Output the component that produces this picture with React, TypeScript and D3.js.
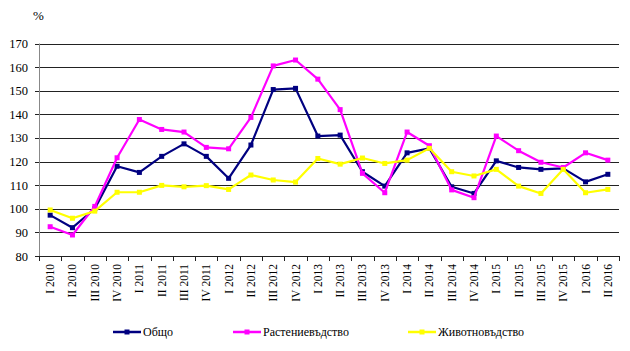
import React from "react";
import * as d3 from "d3";

const categories = [
  "I 2010", "II 2010", "III 2010", "IV 2010",
  "I 2011", "II 2011", "III 2011", "IV 2011",
  "I 2012", "II 2012", "III 2012", "IV 2012",
  "I 2013", "II 2013", "III 2013", "IV 2013",
  "I 2014", "II 2014", "III 2014", "IV 2014",
  "I 2015", "II 2015", "III 2015", "IV 2015",
  "I 2016", "II 2016",
];

const obshto = [97.3, 92, 100, 118, 115.4, 122.2, 127.5, 122.2, 112.9, 127, 150.5, 151, 130.8, 131.2, 115.7, 109.6, 123.7, 125.6, 109.3, 106.5, 120.3, 117.5, 116.7, 117.1, 111.4, 114.6];
const rasteniev = [92.4, 88.9, 101, 121.6, 137.8, 133.6, 132.5, 126, 125.4, 138.7, 160.5, 163, 154.9, 142, 115, 106.8, 132.5, 126.7, 108, 104.7, 130.8, 124.6, 119.7, 117.5, 123.7, 120.6];
const zhivotnov = [99.5, 96, 99, 107, 107, 109.9, 109.3, 109.8, 108.2, 114.3, 112.2, 111.3, 121.3, 118.9, 121.5, 119.2, 120.6, 125.6, 115.7, 113.9, 116.7, 109.6, 106.5, 116.7, 106.8, 108.2];

const yTicks = [80, 90, 100, 110, 120, 130, 140, 150, 160, 170];

const seriesList = [
  { name: "Общо", values: obshto, color: "#000080" },
  { name: "Растениевъдство", values: rasteniev, color: "#FF00FF" },
  { name: "Животновъдство", values: zhivotnov, color: "#FFFF00" },
];
const legendX = [113, 233, 408];

export default function App() {
  const W = 630, H = 351;
  const left = 39, right = 619, top = 43.5, bottom = 256;
  const x = d3.scaleBand<string>().domain(categories).range([left, right]);
  const y = d3.scaleLinear().domain([80, 170]).range([bottom, top]);
  const cx = (i: number) => (x(categories[i]) as number) + x.bandwidth() / 2;
  const line = d3.line<number>().x((_, i) => cx(i)).y((v) => y(v));
  const font = "'Liberation Serif', 'Times New Roman', serif";

  return (
    <svg width={W} height={H} style={{ position: "absolute", left: 0, top: 0, background: "#fff" }}>
      <text x={33} y={20} fontFamily={font} fontSize={13}>%</text>
      {yTicks.map((t) => (
        <g key={t}>
          {t > 80 && (
            <line x1={left} x2={right} y1={Math.round(y(t)) + 0.5} y2={Math.round(y(t)) + 0.5} stroke="#222" strokeWidth={1} />
          )}
          <line x1={left - 4} x2={left} y1={Math.round(y(t)) + 0.5} y2={Math.round(y(t)) + 0.5} stroke="#222" />
          <text x={28} y={y(t) + 4.5} textAnchor="end" fontFamily={font} fontSize={12.5}>{t}</text>
        </g>
      ))}
      <line x1={left + 0.5} x2={left + 0.5} y1={top} y2={bottom} stroke="#888" />
      <line x1={left} x2={right} y1={Math.round(bottom) + 0.5} y2={Math.round(bottom) + 0.5} stroke="#222" />
      {categories.map((c, i) => {
        const bx = Math.round((x(c) as number) + x.bandwidth()) + 0.5;
        return <line key={"t" + i} x1={bx} x2={bx} y1={bottom} y2={bottom + 5} stroke="#222" />;
      })}
      <line x1={left + 0.5} x2={left + 0.5} y1={bottom} y2={bottom + 5} stroke="#222" />
      {categories.map((c, i) => (
        <text key={c} transform={`translate(${cx(i) + 4},${264}) rotate(-90)`} textAnchor="end" fontFamily={font} fontSize={11.5}>{c}</text>
      ))}
      {seriesList.map((s) => (
        <g key={s.name}>
          <path d={line(s.values) || ""} fill="none" stroke={s.color} strokeWidth={2.2} strokeLinejoin="round" />
          {s.values.map((v, i) => (
            <rect key={i} x={cx(i) - 2.5} y={y(v) - 2.5} width={5} height={5} fill={s.color} />
          ))}
        </g>
      ))}
      {seriesList.map((s, k) => (
        <g key={"lg" + k}>
          <line x1={legendX[k]} x2={legendX[k] + 28} y1={332} y2={332} stroke={s.color} strokeWidth={2.5} />
          <rect x={legendX[k] + 11.5} y={329.5} width={5} height={5} fill={s.color} />
          <text x={legendX[k] + 30} y={336} fontFamily={font} fontSize={12}>{s.name}</text>
        </g>
      ))}
    </svg>
  );
}
